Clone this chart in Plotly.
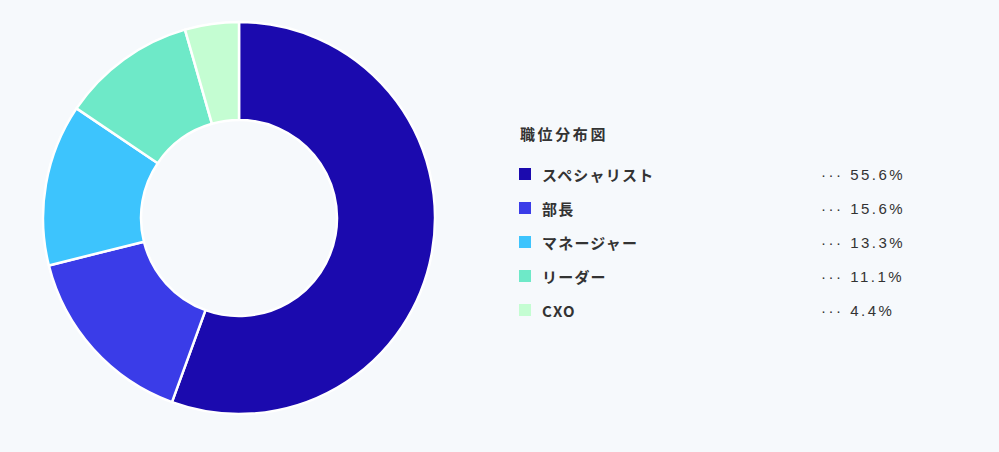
import plotly.graph_objects as go

# 職位分布 (counts, 45 people total)
positions = ["スペシャリスト", "部長", "マネージャー", "リーダー", "CXO"]
counts = [25, 7, 6, 5, 2]
colors = ["#1b0aae", "#3a3ce8", "#3dc4fd", "#6ee9c8", "#c4fdd2"]
legend_title = "職位分布図"

BG = "#f6f9fc"
TEXT = "#333333"
W, H = 999, 452


def spaced(text, px):
    return f'<span style="letter-spacing:{px}px">{text}</span>'


fig = go.Figure()

fig.add_trace(
    go.Pie(
        labels=positions,
        values=counts,
        sort=False,
        direction="clockwise",
        hole=0.5,
        marker=dict(colors=colors, line=dict(color="white", width=2.5)),
        textinfo="none",
        hovertemplate="%{label}: %{percent}<extra></extra>",
        domain=dict(x=[42 / W, 436 / W], y=[1 - 414 / H, 1 - 22 / H]),
        showlegend=False,
    )
)

# custom legend on the right
total = sum(counts)
shapes = []
annotations = [
    dict(
        text="<b>" + spaced(legend_title, 2.6) + "</b>",
        x=518 / W, y=1 - 133 / H, xref="paper", yref="paper",
        xanchor="left", yanchor="middle", showarrow=False,
        font=dict(family="Noto Sans CJK JP", size=15, color=TEXT),
    )
]
for i, (name, n, c) in enumerate(zip(positions, counts, colors)):
    yc = 174 + 34 * i
    shapes.append(
        dict(
            type="rect", xref="paper", yref="paper",
            x0=519 / W, x1=531 / W, y0=1 - (yc + 6) / H, y1=1 - (yc - 6) / H,
            fillcolor=c, line=dict(width=0),
        )
    )
    annotations.append(
        dict(
            text="<b>" + spaced(name, 1.2) + "</b>",
            x=540 / W, y=1 - yc / H, xref="paper", yref="paper",
            xanchor="left", yanchor="middle", showarrow=False,
            font=dict(family="Noto Sans CJK JP", size=15, color=TEXT),
        )
    )
    annotations.append(
        dict(
            text=spaced(f"··· {n / total * 100:.1f}%", 2.5),
            x=819 / W, y=1 - yc / H, xref="paper", yref="paper",
            xanchor="left", yanchor="middle", showarrow=False,
            font=dict(family="Liberation Sans, Noto Sans CJK JP", size=15, color=TEXT),
        )
    )

fig.update_layout(
    width=W, height=H,
    margin=dict(l=0, r=0, t=0, b=0),
    paper_bgcolor=BG,
    plot_bgcolor=BG,
    shapes=shapes,
    annotations=annotations,
)

fig.write_html(
    "out.html",
    config={"displayModeBar": False},
    post_script=f"document.body.style.margin='0';document.body.style.background='{BG}';",
)
